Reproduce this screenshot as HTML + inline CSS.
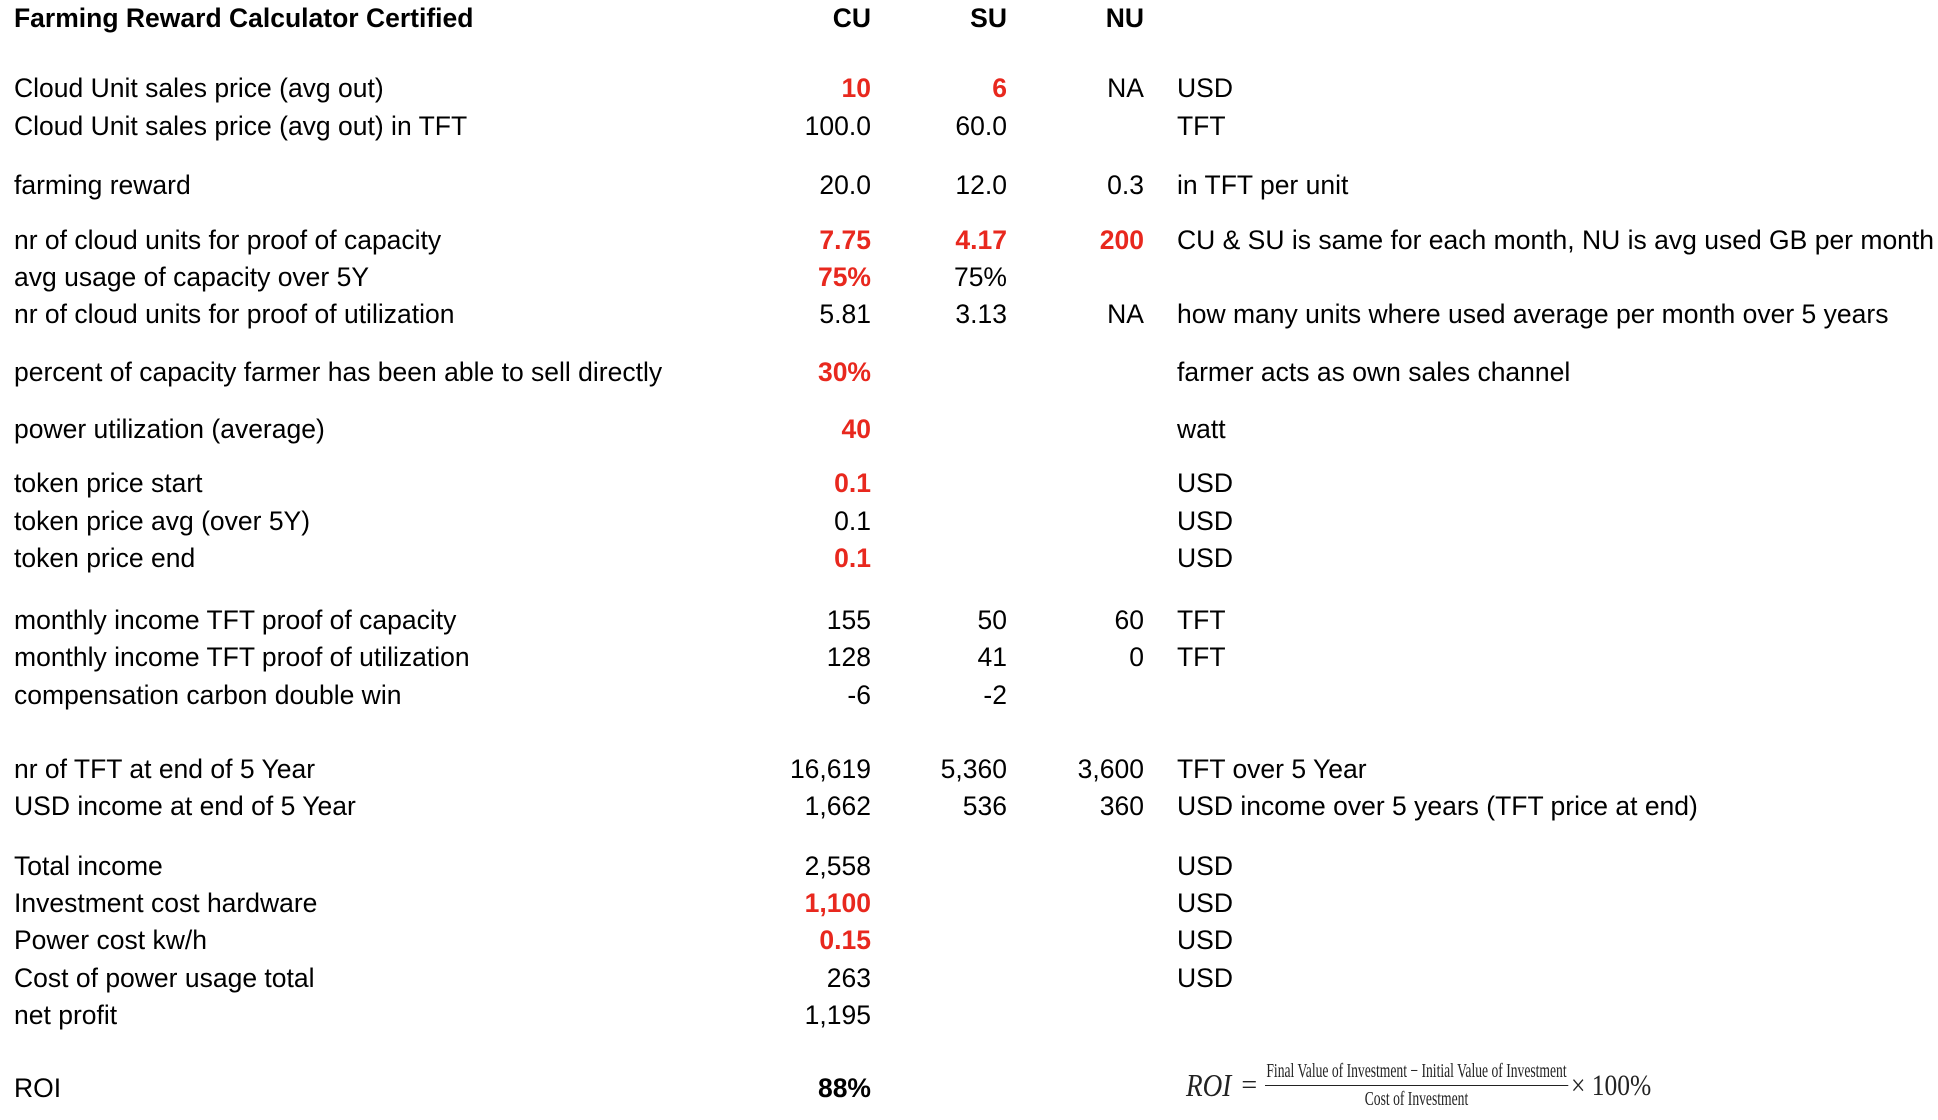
<!DOCTYPE html>
<html><head><meta charset="utf-8">
<style>
html,body{margin:0;padding:0;background:#fff;}
body{width:1938px;height:1120px;position:relative;overflow:hidden;font-family:"Liberation Sans",sans-serif;font-size:26.5px;color:#000;}
.c{position:absolute;white-space:nowrap;line-height:30px;transform:translateY(-16px);}
.l{left:14px;}
.r{text-align:right;width:200px;}
.red{color:#e8281e;font-weight:bold;}
.b{font-weight:bold;}
#formula{position:absolute;left:1186px;top:1060px;font-family:"Liberation Serif",serif;display:flex;align-items:center;color:#222;}
</style></head>
<body>
<div id="sheet"></div>
<div id="formula">
 <span style="font-size:32px;font-style:italic;display:inline-block;transform:scaleX(0.85);transform-origin:left;margin-right:-6px;">ROI</span><span style="font-size:28px;margin:0 8px;">=</span>
 <span style="display:inline-flex;flex-direction:column;align-items:center;font-size:20px;transform:scaleX(0.68);transform-origin:left;margin-right:-148px;">
  <span style="border-bottom:1.5px solid #222;padding:0 2px 2px;">Final Value of Investment − Initial Value of Investment</span>
  <span style="padding-top:2px;">Cost of Investment</span>
 </span>
 <span style="font-size:30px;margin-left:8px;display:inline-block;transform:scaleX(0.85);transform-origin:left;">× 100%</span>
</div>
<script>
const rows=[
 [19,"Farming Reward Calculator Certified","CU","SU","NU","", "title"],
 [89,"Cloud Unit sales price (avg out)","!10","!6","NA","USD"],
 [127,"Cloud Unit sales price (avg out) in TFT","100.0","60.0","","TFT"],
 [186,"farming reward","20.0","12.0","0.3","in TFT per unit"],
 [241,"nr of cloud units for proof of capacity","!7.75","!4.17","!200","CU & SU is same for each month, NU is avg used GB per month"],
 [278,"avg usage of capacity over 5Y","!75%","75%","",""],
 [315,"nr of cloud units for proof of utilization","5.81","3.13","NA","how many units where used average per month over 5 years"],
 [373,"percent of capacity farmer has been able to sell directly","!30%","","","farmer acts as own sales channel"],
 [430,"power utilization (average)","!40","","","watt"],
 [484,"token price start","!0.1","","","USD"],
 [522,"token price avg (over 5Y)","0.1","","","USD"],
 [559,"token price end","!0.1","","","USD"],
 [621,"monthly income TFT proof of capacity","155","50","60","TFT"],
 [658,"monthly income TFT proof of utilization","128","41","0","TFT"],
 [696,"compensation carbon double win","-6","-2","",""],
 [770,"nr of TFT at end of 5 Year","16,619","5,360","3,600","TFT over 5 Year"],
 [807,"USD income at end of 5 Year","1,662","536","360","USD income over 5 years (TFT price at end)"],
 [867,"Total income","2,558","","","USD"],
 [904,"Investment cost hardware","!1,100","","","USD"],
 [941,"Power cost kw/h","!0.15","","","USD"],
 [979,"Cost of power usage total","263","","","USD"],
 [1016,"net profit","1,195","","",""],
 [1089,"ROI","*88%","","",""]
];
const colRight=[871,1007,1144];
const sheet=document.getElementById('sheet');
function slug(s){return s.toLowerCase().replace(/[^a-z0-9]+/g,'-').replace(/^-|-$/g,'').slice(0,40);}
rows.forEach(r=>{
 const y=r[0];const isTitle=r[6]==="title";
 const lab=document.createElement('div');
 lab.className='c l'+(isTitle?' b':'');
 lab.style.top=y+'px';lab.textContent=r[1];
 
 
 sheet.appendChild(lab);
 for(let i=0;i<3;i++){
  let v=r[2+i];if(!v)continue;
  const d=document.createElement('div');
  d.className='c r';
  if(isTitle||v[0]==='*'){d.classList.add('b');}
  if(v[0]==='!'){d.classList.add('red');}
  if(v[0]==='!'||v[0]==='*')v=v.slice(1);
  d.style.top=y+'px';d.style.left=(colRight[i]-200)+'px';d.textContent=v;
  
  
  sheet.appendChild(d);
 }
 if(r[5]){
  const u=document.createElement('div');
  u.className='c';u.style.left='1177px';u.style.top=y+'px';u.textContent=r[5];
  
  
  sheet.appendChild(u);
 }
});
</script>
</body></html>
